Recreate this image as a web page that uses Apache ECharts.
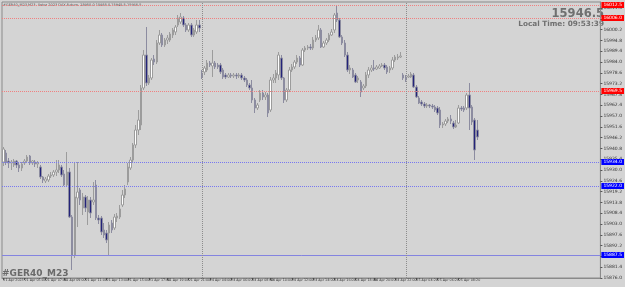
<html>
<head>
	<meta charset="utf-8">
	<style>
		html, body { margin: 0; padding: 0; background: #d4d4d4; }
	</style>
</head>
<body>
	<div id="main" style="width: 625px; height: 287px;"></div>
	<script src="https://cdn.jsdelivr.net/npm/echarts/dist/echarts.min.js"></script>
	<script>
		// candle data, 15 min bars, 21-25 Apr 2023
		var opens = [
			15934, 15938.5, 15934.5, 15933.5, 15932.5, 15934.5, 15932.5, 15931, 15933.5, 15934.5,
			15937, 15933.5, 15934, 15933, 15931.5, 15926.5, 15924.5, 15925, 15927, 15927.5,
			15929, 15930, 15931.5, 15928, 15922.5, 15929, 15906.5, 15887.5, 15916, 15920,
			15911, 15916.5, 15909, 15915, 15914, 15922.5, 15906, 15906, 15900, 15898.5,
			15898.5, 15903.5, 15901, 15906, 15906.5, 15912.5, 15917.5, 15924, 15931, 15935,
			15942.5, 15950, 15952.5, 15971, 15987.5, 15973.5, 15976, 15985.5, 15984, 15993.5,
			15997.5, 15992.5, 15995, 15995, 15997.5, 15999, 16002.5, 16004, 16006, 16002.5,
			16000, 16002.5, 15997.5, 15999, 16002.5, 15978.5, 15979, 15980, 15983.5, 15982,
			15983.5, 15982.5, 15982.5, 15980, 15977.5, 15976.5, 15977.5, 15977, 15977.5, 15977,
			15977.5, 15976, 15975, 15972.5, 15971, 15965, 15961, 15965, 15968.5, 15966.5,
			15967.5, 15960, 15975, 15976, 15977.5, 15986, 15976, 15965, 15970, 15980,
			15981.5, 15984, 15986, 15982.5, 15990, 15991, 15991.5, 15991, 15995, 15996,
			16000, 15991.5, 15993.5, 15995, 15997.5, 16000, 16008.5, 16005, 15996.5, 15993.5,
			15987.5, 15980, 15980, 15977.5, 15975, 15974, 15971, 15972, 15977.5, 15980,
			15981, 15980.5, 15981, 15982, 15982.5, 15981.5, 15980, 15981, 15985, 15986,
			15986.5, 15977.5, 15976.5, 15976.5, 15976.5, 15977.5, 15971.5, 15966, 15964, 15963,
			15962, 15962.5, 15962, 15961.5, 15961, 15960, 15952.5, 15953, 15954.5, 15955.5,
			15953.5, 15951.5, 15953.5, 15961, 15961, 15961, 15967.5, 15961.5, 15955, 15950
		];
		var closes = [
			15940.5, 15934, 15933.5, 15934, 15934.5, 15932.5, 15931, 15933, 15934.5, 15936.5,
			15933.5, 15934.5, 15933, 15933.5, 15926.5, 15925, 15925.5, 15927, 15927.5, 15929,
			15930, 15932.5, 15927.5, 15922.5, 15929, 15906.5, 15887.5, 15916.5, 15919, 15915,
			15916.5, 15911, 15915, 15908.5, 15915, 15906, 15905, 15899, 15897.5, 15895,
			15902.5, 15900, 15906.5, 15907, 15910.5, 15917.5, 15920.5, 15931.5, 15935, 15942.5,
			15950, 15955, 15971, 15987.5, 15973.5, 15976, 15985, 15984, 15993.5, 15997.5,
			15992.5, 15995, 15996, 15998, 16000, 16001.5, 16006, 16006.5, 16002.5, 16000,
			16002.5, 15997.5, 16000, 16002.5, 16001, 15976.5, 15981, 15983.5, 15982.5, 15983.5,
			15981.5, 15981.5, 15979, 15976.5, 15976.5, 15977.5, 15977, 15977.5, 15977, 15977.5,
			15976, 15975, 15972.5, 15971, 15965, 15961, 15962.5, 15968.5, 15966.5, 15967.5,
			15958.5, 15975, 15976, 15978.5, 15987.5, 15976, 15965, 15970, 15980, 15981.5,
			15984, 15986, 15982.5, 15990, 15991, 15991.5, 15991, 15995, 15996, 16000,
			15991.5, 15993.5, 15995, 15997.5, 15999, 16007.5, 16005, 15996.5, 15993.5, 15987.5,
			15980, 15981, 15976.5, 15974, 15976, 15969, 15972, 15977.5, 15980, 15981,
			15980.5, 15981.5, 15982, 15982.5, 15981, 15979, 15981, 15985, 15986.5, 15986.5,
			15987, 15976, 15975, 15977, 15978, 15971.5, 15966.5, 15963.5, 15963, 15962,
			15962.5, 15962, 15961.5, 15960, 15958.5, 15952.5, 15953, 15954.5, 15955.5, 15954.5,
			15951.5, 15952.5, 15961, 15960.5, 15960, 15967.5, 15961, 15954, 15940, 15946.5
		];
		var lows = [
			15932, 15932.5, 15931, 15930, 15931.5, 15931, 15929, 15929.5, 15932.5, 15933.5,
			15932.5, 15932.5, 15931.5, 15931, 15925.5, 15923.5, 15923.5, 15924, 15926, 15926.5,
			15927, 15928.5, 15926.5, 15922, 15921.5, 15906, 15880, 15886, 15901.5, 15912.5,
			15907.5, 15909, 15902.5, 15906, 15912.5, 15905, 15903, 15897.5, 15896, 15893.5,
			15887.5, 15898.5, 15900, 15904, 15905.5, 15911.5, 15916, 15922.5, 15930, 15933.5,
			15941, 15947.5, 15950, 15970, 15972, 15972.5, 15975, 15982.5, 15983, 15992.5,
			15991.5, 15991.5, 15993, 15994, 15996, 15997.5, 16001.5, 16003, 16001.5, 15999,
			15999, 15996.5, 15996.5, 15998, 15999, 15975.5, 15977.5, 15979, 15981.5, 15976.5,
			15980.5, 15980.5, 15978, 15975.5, 15975.5, 15976, 15976, 15976, 15975.5, 15976,
			15975, 15974, 15971.5, 15970, 15963.5, 15958.5, 15960, 15964, 15965, 15965,
			15956.5, 15959, 15973.5, 15973.5, 15975, 15975, 15963.5, 15964, 15969, 15979,
			15980.5, 15983, 15981.5, 15982, 15989, 15990, 15990, 15990, 15994, 15995,
			15991, 15991, 15992.5, 15994, 15997, 15998.5, 16004, 15996, 15992.5, 15986.5,
			15979, 15978, 15976, 15973.5, 15973.5, 15966.5, 15970, 15971, 15976, 15979,
			15979.5, 15980, 15980.5, 15981.5, 15980, 15978, 15978.5, 15980, 15984, 15985,
			15986, 15975, 15974, 15976, 15976, 15971, 15966, 15963, 15962, 15961,
			15961, 15961, 15960.5, 15959, 15957.5, 15951, 15951, 15952, 15953.5, 15953,
			15950.5, 15951, 15953, 15959.5, 15959, 15960, 15950, 15952.5, 15935, 15945
		];
		var highs = [
			15941.5, 15940, 15936, 15935, 15935.5, 15935, 15933.5, 15934, 15935.5, 15937.5,
			15937.5, 15935, 15935, 15934.5, 15932.5, 15927, 15926.5, 15928, 15929, 15930,
			15935, 15935, 15932.5, 15930, 15939, 15931, 15907.5, 15934, 15934, 15921,
			15918.5, 15917.5, 15917, 15916.5, 15924, 15925, 15907.5, 15907, 15903.5, 15900,
			15904, 15905, 15908, 15908.5, 15912.5, 15920, 15922.5, 15933.5, 15936.5, 15943.5,
			15952.5, 15960, 15972.5, 15990, 16001.5, 15977.5, 15986, 15987.5, 15995, 16000,
			15998.5, 15996, 15997.5, 15999, 16001, 16002.5, 16007.5, 16008.5, 16007, 16003.5,
			16003.5, 16003.5, 16001, 16005, 16005, 15980, 15982, 15985, 15984.5, 15990,
			15984.5, 15983.5, 15983.5, 15981, 15978.5, 15978.5, 15978.5, 15978.5, 15978.5, 15978.5,
			15978.5, 15977, 15976, 15973.5, 15975, 15966, 15963.5, 15970, 15970, 15969,
			15968.5, 15976.5, 15978, 15980, 15989, 15987.5, 15976.5, 15971, 15981.5, 15983,
			15985, 15987.5, 15987, 15991, 15992, 15992.5, 15993, 15996.5, 15997.5, 16002.5,
			16001, 15994.5, 15996, 15998.5, 16000.5, 16008.5, 16012.5, 16006, 15997.5, 15995,
			15989, 15982.5, 15981, 15978.5, 15977, 15975, 15973, 15979, 15981.5, 15982.5,
			15985, 15982.5, 15983, 15983.5, 15983.5, 15982.5, 15982, 15986.5, 15987.5, 15988,
			15989, 15978.5, 15977.5, 15978, 15979, 15978.5, 15972.5, 15967, 15965, 15964,
			15963.5, 15963, 15963, 15962.5, 15962, 15961.5, 15954, 15955.5, 15956.5, 15957.5,
			15954.5, 15955, 15962.5, 15962, 15962, 15968.5, 15973.5, 15962.5, 15956, 15955
		];

		// time labels and the bar they sit on
		var tickLabels = [
			"21 Apr 2023", "21 Apr 05:00", "21 Apr 07:00", "21 Apr 09:00", "21 Apr 11:00", "21 Apr 13:00",
			"21 Apr 15:00", "21 Apr 17:00", "21 Apr 19:00", "21 Apr 21:00", "24 Apr 04:00", "24 Apr 06:00",
			"24 Apr 08:00", "24 Apr 10:00", "24 Apr 12:00", "24 Apr 14:00", "24 Apr 16:00", "24 Apr 18:00",
			"24 Apr 20:00", "24 Apr 22:00", "25 Apr 04:20", "25 Apr 06:20", "25 Apr 08:20", "25 Apr 10:20"
		];
		var tickBars = [0, 8, 16, 23, 31, 39, 47, 55, 62, 70, 78, 86, 94, 101, 109, 117, 125, 133, 140, 148, 156, 164, 172, 179];

		// price levels drawn on the chart
		var redLevels = [16012.5, 16006, 15969.5];
		var blueDotLevels = [15934, 15922];
		var blueSolidLevels = [15887.5];
		var priceMarks = [15949.5, 15946.5]; // black boxes on the price scale
		var daySeparators = [75, 152];

		var symbolName = "#GER40_M23";
		var headerText = "#GER40_M23,M23  Xetra 2023 DAX Future  15950.0 15955.0 15945.5 15946.5";
		var lastPrice = "15946.5";
		var localTime = "Local Time: 09:53:39";

		var totalBars = 226; // visible slots incl. empty space on the right
		var cats = [];
		for (var i = 0; i < totalBars; i++) cats.push(String(i));
		var candles = [];
		for (var i = 0; i < opens.length; i++) {
			candles.push([opens[i], closes[i], lows[i], highs[i]]);
		}

		function levelLabel(bg) {
			return {
				show: true,
				position: 'end',
				distance: 1,
				formatter: function (p) { return p.value.toFixed(1); },
				fontSize: 4.5,
				fontFamily: 'DejaVu Sans',
				color: '#ffffff',
				backgroundColor: bg,
				padding: [1, 2, 0, 2]
			};
		}

		var markData = [];
		redLevels.forEach(function (v) {
			markData.push({ yAxis: v, lineStyle: { color: '#f08080', type: 'dotted', width: 1 }, label: levelLabel('#ff0000') });
		});
		blueDotLevels.forEach(function (v) {
			markData.push({ yAxis: v, lineStyle: { color: '#7878f0', type: 'dotted', width: 1 }, label: levelLabel('#0000ff') });
		});
		blueSolidLevels.forEach(function (v) {
			markData.push({ yAxis: v, lineStyle: { color: '#8484e0', type: 'solid', width: 1 }, label: levelLabel('#0000ff') });
		});
		priceMarks.forEach(function (v) {
			markData.push({ yAxis: v, lineStyle: { opacity: 0 }, label: levelLabel('#000000') });
		});
		daySeparators.forEach(function (v) {
			markData.push({ xAxis: v, lineStyle: { color: '#8c8c8c', type: 'dotted', width: 1 }, label: { show: false } });
		});

		var myChart = echarts.init(document.getElementById('main'), null, { renderer: 'canvas' });

		var option = {
			backgroundColor: '#d4d4d4',
			animation: false,
			textStyle: { fontFamily: 'DejaVu Sans' },
			grid: {
				left: 2, right: 18, top: 2, bottom: 9,
				show: true,
				borderColor: '#8a8a8a',
				borderWidth: 1
			},
			xAxis: {
				type: 'category',
				data: cats,
				boundaryGap: true,
				axisLine: { lineStyle: { color: '#8a8a8a' } },
				axisTick: {
					show: true,
					length: 2,
					alignWithLabel: true,
					interval: function (idx) { return tickBars.indexOf(idx) >= 0; },
					lineStyle: { color: '#555' }
				},
				axisLabel: {
					interval: function (idx) { return tickBars.indexOf(idx) >= 0; },
					formatter: function (val, idx) {
						var k = tickBars.indexOf(idx);
						return k >= 0 ? tickLabels[k] : '';
					},
					align: 'left',
					fontSize: 3.3,
					margin: 1,
					color: '#333'
				},
				splitLine: { show: false }
			},
			yAxis: {
				type: 'value',
				position: 'right',
				min: 15876,
				max: 16014,
				interval: 5.4,
				scale: true,
				axisLine: { show: true, lineStyle: { color: '#8a8a8a' } },
				axisTick: { show: true, length: 2, lineStyle: { color: '#555' } },
				axisLabel: {
					fontSize: 4.5,
					margin: 3,
					color: '#333',
					showMaxLabel: false,
					formatter: function (v) { return v.toFixed(1); }
				},
				splitLine: { show: false }
			},
			series: [{
				type: 'candlestick',
				data: candles,
				barWidth: 2,
				itemStyle: {
					color: '#ffffff',
					color0: '#23237a',
					borderColor: '#9c9c9c',
					borderColor0: '#8c8ca0',
					borderWidth: 1
				},
				markLine: {
					silent: true,
					symbol: ['none', 'none'],
					animation: false,
					data: markData
				}
			}],
			graphic: [
				{
					type: 'text', x: 3, y: 3,
					style: { text: headerText, fontSize: 3.5, fill: '#555', fontFamily: 'DejaVu Sans' }
				},
				{
					type: 'text', x: 604, y: 8,
					style: { text: lastPrice, align: 'right', fontSize: 11.5, fontWeight: 'bold', fill: '#707070', fontFamily: 'DejaVu Sans' }
				},
				{
					type: 'text', x: 604, y: 21,
					style: { text: localTime, align: 'right', fontSize: 7.3, fontWeight: 'bold', fill: '#707070', fontFamily: 'DejaVu Sans' }
				},
				{
					type: 'text', x: 2, y: 269,
					style: { text: symbolName, fontSize: 9, fontWeight: 'bold', fill: '#6a6a6a', fontFamily: 'DejaVu Sans' }
				}
			]
		};

		myChart.setOption(option);
	</script>
</body>
</html>
